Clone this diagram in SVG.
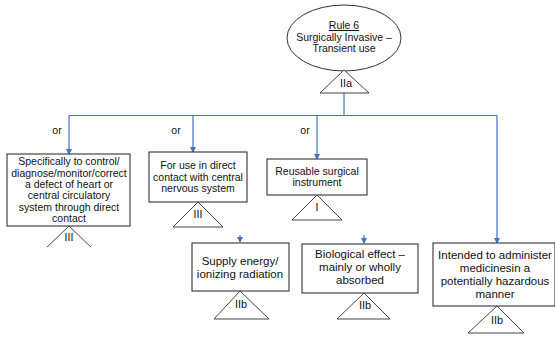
<svg xmlns="http://www.w3.org/2000/svg" width="555" height="338" viewBox="0 0 555 338">
  <defs>
    <style>
      .box { fill: #fff; stroke: #333; stroke-width: 1.1; }
      .tri { fill: #fff; stroke: #444; stroke-width: 1; }
      .t { font-family: "Liberation Sans", Arial, sans-serif; font-size: 10.5px; fill: #111; text-anchor: middle; }
      .tl { font-family: "Liberation Sans", Arial, sans-serif; font-size: 11.5px; fill: #111; text-anchor: middle; }
      .tg { font-family: "Liberation Sans", Arial, sans-serif; font-size: 11px; fill: #111; text-anchor: middle; }
      .wire { fill: none; stroke: #4472c4; stroke-width: 1.2; }
    </style>
    <marker id="arr" viewBox="0 0 6 6" refX="5" refY="3" markerWidth="6" markerHeight="6" orient="auto" markerUnits="userSpaceOnUse">
      <path d="M0,0 L6,3 L0,6 z" fill="#4472c4"/>
    </marker>
    <clipPath id="clipLeft"><rect x="0" y="0" width="555" height="247"/></clipPath>
  </defs>
  <rect width="555" height="338" fill="#fff"/>

  <g id="connectors">
    <line class="wire" x1="344" y1="93" x2="344" y2="115.5"/>
    <line class="wire" x1="69" y1="115.5" x2="497" y2="115.5"/>
    <line class="wire" x1="69" y1="115.5" x2="69" y2="154" marker-end="url(#arr)"/>
    <line class="wire" x1="193" y1="115.5" x2="193" y2="152" marker-end="url(#arr)"/>
    <line class="wire" x1="317" y1="115.5" x2="317" y2="159" marker-end="url(#arr)"/>
    <line class="wire" x1="497" y1="115.5" x2="497" y2="243" marker-end="url(#arr)"/>
    <line class="wire" x1="240" y1="235" x2="240" y2="242" marker-end="url(#arr)"/>
    <line class="wire" x1="364" y1="235" x2="364" y2="243" marker-end="url(#arr)"/>
    <text class="t" x="57" y="134">or</text>
    <text class="t" x="176" y="134">or</text>
    <text class="t" x="305" y="134">or</text>
  </g>

  <g id="rule6">
    <ellipse cx="344" cy="38" rx="57" ry="33" fill="#fff" stroke="#333" stroke-width="1"/>
    <text class="t" x="344" y="29" text-decoration="underline">Rule 6</text>
    <text class="t" x="344" y="41">Surgically Invasive –</text>
    <text class="t" x="344" y="52">Transient use</text>
    <polygon class="tri" points="344,70 320,93 369,93"/>
    <text class="tg" x="346" y="87">IIa</text>
  </g>

  <g id="heart">
    <rect class="box" x="7" y="154" width="123" height="72"/>
    <text class="t" x="69" y="165">Specifically to control/</text>
    <text class="t" x="69" y="176.5">diagnose/monitor/correct</text>
    <text class="t" x="69" y="188">a defect of heart or</text>
    <text class="t" x="69" y="199">central circulatory</text>
    <text class="t" x="69" y="210.5">system through direct</text>
    <text class="t" x="69" y="222">contact</text>
    <polygon class="tri" points="69,226 44,250 94,250" clip-path="url(#clipLeft)"/>
    <text class="t" x="69" y="241">III</text>
  </g>

  <g id="cns">
    <rect class="box" x="149" y="152" width="98" height="50"/>
    <text class="t" x="198" y="169">For use in direct</text>
    <text class="t" x="198" y="180.5">contact with central</text>
    <text class="t" x="198" y="192">nervous system</text>
    <polygon class="tri" points="198,202 173,227 223,227"/>
    <text class="t" x="198" y="218">III</text>
  </g>

  <g id="reusable">
    <rect class="box" x="267" y="159" width="100" height="36"/>
    <text class="t" x="317" y="175">Reusable surgical</text>
    <text class="t" x="317" y="186">instrument</text>
    <polygon class="tri" points="317,195 292,220 342,220"/>
    <text class="t" x="317" y="211">I</text>
  </g>

  <g id="energy">
    <rect class="box" x="192" y="243" width="97" height="48"/>
    <text class="tl" x="240" y="265">Supply energy/</text>
    <text class="tl" x="240" y="278">ionizing radiation</text>
    <polygon class="tri" points="240,291 214,319 269,319"/>
    <text class="tg" x="241" y="308">IIb</text>
  </g>

  <g id="biological">
    <rect class="box" x="302" y="244" width="116" height="49"/>
    <text class="tl" x="360" y="258">Biological effect –</text>
    <text class="tl" x="360" y="271">mainly or wholly</text>
    <text class="tl" x="360" y="284">absorbed</text>
    <polygon class="tri" points="364,293 337,319 390,319"/>
    <text class="tg" x="365" y="309">IIb</text>
  </g>

  <g id="medicines">
    <rect class="box" x="433" y="243" width="122" height="63"/>
    <text class="tl" x="495" y="259">Intended to administer</text>
    <text class="tl" x="495" y="272">medicinesin a</text>
    <text class="tl" x="495" y="285">potentially hazardous</text>
    <text class="tl" x="495" y="298">manner</text>
    <polygon class="tri" points="497,306 468,333 524,333"/>
    <text class="tg" x="497" y="324">IIb</text>
  </g>
</svg>
